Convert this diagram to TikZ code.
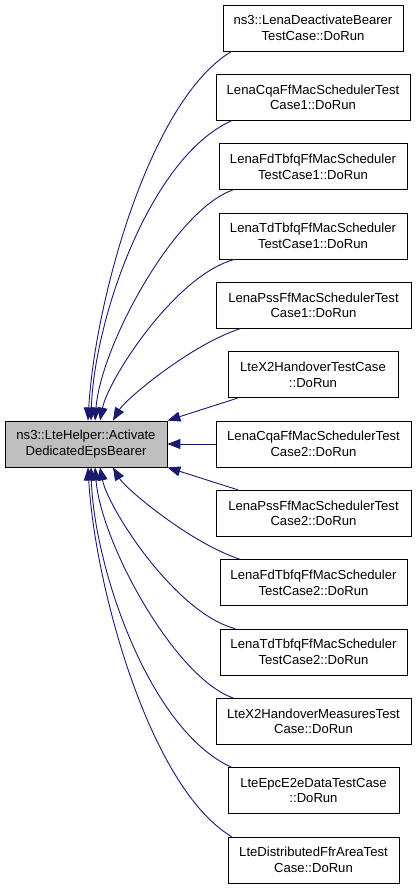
\documentclass[tikz,border=0pt]{standalone}
\usepackage{fontspec}
\setmainfont{Liberation Sans}
\usetikzlibrary{arrows.meta,calc}
\definecolor{edgeblue}{HTML}{191970}
\definecolor{boxgray}{HTML}{BFBFBF}
\tikzset{
  box/.style={draw=black, line width=0.8pt, fill=white, align=center, minimum height=46pt, inner sep=0pt,
    font=\fontsize{13.1pt}{15.5pt}\selectfont},
  mainbox/.style={box, fill=boxgray},
  edge/.style={draw=edgeblue, line width=0.9pt, -{Triangle[length=13pt,width=10pt]}},
}
\begin{document}
\begin{tikzpicture}[x=1pt,y=-1pt]
\useasboundingbox (0,0) rectangle (416,888);
\node[mainbox, minimum width=162pt] (L) at (86,444) {ns3::LteHelper::Activate\\DedicatedEpsBearer};
\node[box, minimum width=180pt] (r1) at (313,28) {ns3::LenaDeactivateBearer\\TestCase::DoRun};
\node[box, minimum width=194pt] (r2) at (313,97.3) {LenaCqaFfMacSchedulerTest\\Case1::DoRun};
\node[box, minimum width=188pt] (r3) at (313,166.7) {LenaFdTbfqFfMacScheduler\\TestCase1::DoRun};
\node[box, minimum width=188pt] (r4) at (313,236) {LenaTdTbfqFfMacScheduler\\TestCase1::DoRun};
\node[box, minimum width=195pt] (r5) at (313.5,305.3) {LenaPssFfMacSchedulerTest\\Case1::DoRun};
\node[box, minimum width=170pt] (r6) at (313,374.7) {LteX2HandoverTestCase\\::DoRun};
\node[box, minimum width=195pt] (r7) at (313.5,444) {LenaCqaFfMacSchedulerTest\\Case2::DoRun};
\node[box, minimum width=195pt] (r8) at (313.5,513.3) {LenaPssFfMacSchedulerTest\\Case2::DoRun};
\node[box, minimum width=187pt] (r9) at (313.5,582.7) {LenaFdTbfqFfMacScheduler\\TestCase2::DoRun};
\node[box, minimum width=187pt] (r10) at (313.5,652) {LenaTdTbfqFfMacScheduler\\TestCase2::DoRun};
\node[box, minimum width=195pt] (r11) at (313.5,721.3) {LteX2HandoverMeasuresTest\\Case::DoRun};
\node[box, minimum width=171pt] (r12) at (313.5,790.7) {LteEpcE2eDataTestCase\\::DoRun};
\node[box, minimum width=171pt] (r13) at (313.5,860) {LteDistributedFfrAreaTest\\Case::DoRun};

\draw[edge] ($(r1.south west)+(9,0)$) .. controls (150,100) and (95,300) .. ($(L.north)+(2,0)$);
\draw[edge] ($(r2.south west)+(16,0)$) .. controls (149,158) and (94,321) .. ($(L.north)+(5,0)$);
\draw[edge] ($(r3.south west)+(14,0)$) .. controls (175,210) and (101,345) .. ($(L.north)+(9,0)$);
\draw[edge] ($(r4.south west)+(16,0)$) .. controls (175,275) and (108,380) .. ($(L.north)+(14,0)$);
\draw[edge] ($(r5.south west)+(24.5,0)$) .. controls (190,345) and (125,400) .. ($(L.north)+(27,0)$);
\draw[edge] ($(r6.south west)+(10,0)$) -- (L.north east);
\draw[edge] (r7.west) -- (L.east);
\draw[edge] ($(r8.north west)+(22.5,0)$) -- (L.south east);
\draw[edge] ($(r9.north west)+(20.5,0)$) .. controls (190,543) and (125,488) .. ($(L.south)+(27,0)$);
\draw[edge] ($(r10.north west)+(15.5,0)$) .. controls (175,613) and (108,508) .. ($(L.south)+(14,0)$);
\draw[edge] ($(r11.north west)+(17.5,0)$) .. controls (175,678) and (101,543) .. ($(L.south)+(9,0)$);
\draw[edge] ($(r12.north west)+(4,0)$) .. controls (149,730) and (94,567) .. ($(L.south)+(5,0)$);
\draw[edge] ($(r13.north west)+(4,0)$) .. controls (150,788) and (95,588) .. ($(L.south)+(2,0)$);
\end{tikzpicture}
\end{document}
